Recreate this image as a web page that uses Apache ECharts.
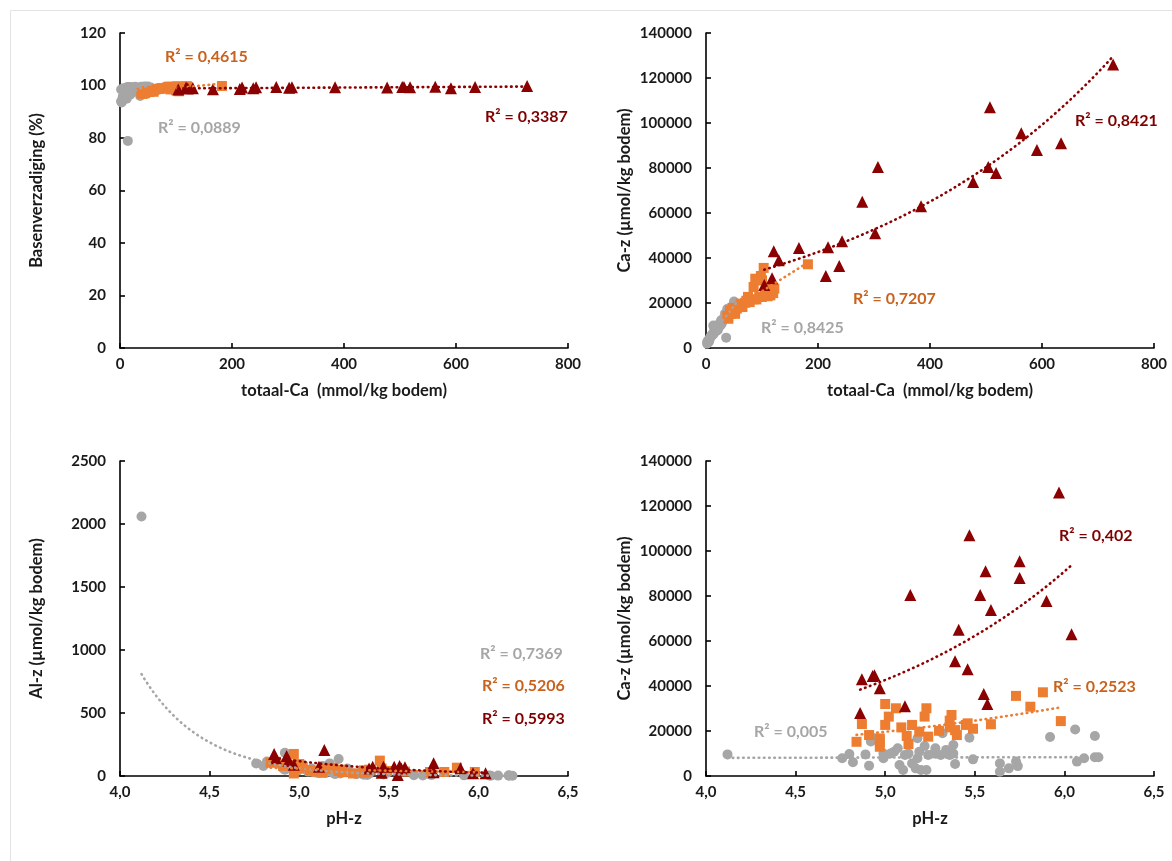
<!DOCTYPE html>
<html>
<head>
<meta charset="utf-8">
<script src="https://cdn.jsdelivr.net/npm/echarts@6/dist/echarts.min.js"></script>
<style>
  html, body { margin: 0; padding: 0; background: #fff; }
  #chart { width: 1172px; height: 861px; }
</style>
</head>
<body>
<div id="chart"></div>
<script>
// Soil samples, one column per measured quantity, grouped per series.
// totCa: totaal-Ca (mmol/kg), bs: Basenverzadiging (%), caz: Ca-z (µmol/kg),
// ph: pH-z, alz: Al-z (µmol/kg)

// grey circles
const greyTotCa = [14, 18, 22, 12, 20, 36, 34, 55, 15, 24, 19, 28, 30, 8, 3, 17, 13, 10, 4, 21, 40, 25, 2, 32, 5, 23, 26, 27, 16, 48, 29, 20, 35, 21, 9, 45, 17, 11, 2, 6, 14, 7, 38, 50, 12, 16, 42, 18, 19];
const greyBS    = [78.9, 96.5, 97.5, 95.0, 98.0, 96.0, 98.5, 99.2, 97.0, 98.8, 96.8, 99.0, 98.6, 95.5, 93.5, 97.8, 98.2, 96.2, 94.5, 98.4, 99.0, 98.9, 94.0, 99.1, 95.8, 99.3, 98.7, 99.5, 97.5, 99.4, 99.0, 98.0, 99.2, 98.5, 97.2, 99.6, 97.9, 96.9, 98.5, 99.0, 99.4, 98.8, 99.5, 99.6, 99.2, 99.3, 99.5, 99.0, 99.4];
const greyCaz   = [9600, 7900, 9800, 6100, 9600, 4600, 15300, 17500, 7900, 10000, 10000, 10800, 12300, 4900, 2700, 9300, 10000, 5600, 3400, 7900, 16800, 10800, 2700, 13300, 2700, 9300, 10000, 12300, 9300, 19000, 11600, 9300, 13800, 10000, 5300, 17000, 7400, 5600, 1900, 3400, 6400, 4400, 17300, 20700, 6400, 7900, 17800, 8300, 8300];
const greyPH    = [4.12, 4.76, 4.80, 4.82, 4.89, 4.91, 4.92, 4.92, 4.99, 4.99, 5.03, 5.05, 5.07, 5.08, 5.10, 5.11, 5.13, 5.15, 5.17, 5.18, 5.18, 5.19, 5.20, 5.22, 5.23, 5.24, 5.27, 5.28, 5.31, 5.32, 5.34, 5.36, 5.38, 5.38, 5.39, 5.47, 5.49, 5.64, 5.64, 5.69, 5.73, 5.74, 5.92, 6.06, 6.07, 6.11, 6.17, 6.17, 6.19];
const greyAlz   = [2060, 100, 80, 115, 95, 60, 185, 50, 70, 40, 55, 35, 60, 30, 25, 45, 80, 30, 100, 30, 50, 25, 15, 135, 20, 35, 60, 30, 20, 15, 30, 10, 25, 8, 18, 12, 25, 6, 15, 4, 12, 8, 5, 4, 2, 3, 5, 1.5, 2];

// orange squares
const orangeTotCa = [98, 95, 100, 122, 112, 85, 100, 105, 95, 90, 118, 85, 75, 115, 72, 110, 70, 62, 55, 65, 78, 48, 38, 60, 43, 40, 52, 45, 103, 88, 182, 120];
const orangeBS    = [99.3, 99.0, 99.5, 99.2, 98.8, 99.4, 98.2, 97.8, 99.0, 98.5, 99.6, 99.1, 99.0, 99.3, 98.9, 99.5, 98.7, 98.4, 98.0, 98.6, 98.9, 97.9, 97.2, 97.6, 97.0, 96.8, 97.5, 97.1, 99.7, 99.6, 99.8, 99.7];
const orangeCaz   = [32000, 30100, 30100, 26400, 26400, 27100, 22700, 23100, 22700, 21600, 24600, 21600, 22700, 23400, 21000, 23000, 20100, 19700, 17500, 18200, 20400, 17800, 14200, 18200, 16700, 13000, 15200, 15200, 35600, 30800, 37200, 24400];
const orangePH    = [5.00, 5.06, 5.23, 5.22, 5.02, 5.37, 5.00, 4.87, 5.15, 5.09, 5.36, 5.36, 5.45, 5.46, 5.49, 5.59, 5.30, 5.19, 5.24, 5.40, 5.39, 5.12, 5.13, 4.91, 4.97, 4.97, 4.97, 4.84, 5.73, 5.81, 5.88, 5.98];
const orangeAlz   = [60, 45, 50, 40, 70, 30, 95, 113, 55, 35, 45, 25, 122, 60, 40, 35, 20, 65, 30, 45, 50, 40, 25, 80, 175, 20, 90, 105, 32, 32, 66, 32];

// dark red triangles
const redTotCa = [727, 507, 563, 634, 591, 307, 504, 518, 477, 279, 384, 302, 243, 121, 166, 218, 130, 238, 214, 118, 104];
const redBS    = [99.8, 99.4, 99.5, 99.4, 99.0, 99.3, 99.4, 99.3, 99.2, 99.4, 99.3, 99.1, 99.3, 98.9, 98.6, 99.2, 99.0, 99.0, 98.7, 99.2, 98.5];
const redCaz   = [126000, 107000, 95500, 91000, 88000, 80500, 80400, 77800, 73800, 65000, 63000, 51000, 47500, 43000, 44500, 44800, 39000, 36500, 32000, 31000, 28000];
const redPH    = [5.97, 5.47, 5.75, 5.56, 5.75, 5.14, 5.53, 5.90, 5.59, 5.41, 6.04, 5.39, 5.46, 4.87, 4.93, 4.94, 4.97, 5.55, 5.57, 5.11, 4.86];
const redAlz   = [21, 74, 101, 79, 30, 206, 74, 61, 69, 74, 21, 60, 26, 140, 159, 120, 90, 8, 60, 74, 175];

// coefficient of determination printed next to each trend line
const r2Panel1 = ['R² = 0,4615', 'R² = 0,0889', 'R² = 0,3387'];
const r2Panel2 = ['R² = 0,8421', 'R² = 0,7207', 'R² = 0,8425'];
const r2Panel3 = ['R² = 0,7369', 'R² = 0,5206', 'R² = 0,5993'];
const r2Panel4 = ['R² = 0,402', 'R² = 0,2523', 'R² = 0,005'];

// axis titles
const titleTotCa = 'totaal-Ca  (mmol/kg bodem)';
const titleBS = 'Basenverzadiging (%)';
const titleCaz = 'Ca-z (µmol/kg bodem)';
const titleAlz = 'Al-z (µmol/kg bodem)';
const titlePH = 'pH-z';

const GREY = '#A6A6A6', ORANGE = '#ED7D31', RED = '#8B0000';
const GREY_TXT = '#A6A6A6', ORANGE_TXT = '#C9621C', RED_TXT = '#7F0000';
const FONT = 'Lato';

// least-squares trend sampled over the data range:
// 'exp' fits ln y = a + b x, 'linear' fits y = a + b x
function fitTrend(xs, ys, kind, steps) {
  const n = xs.length;
  const tf = kind === 'exp' ? (v => Math.log(v)) : (v => v);
  const inv = kind === 'exp' ? (v => Math.exp(v)) : (v => v);
  let sx = 0, sy = 0, sxx = 0, sxy = 0;
  for (let i = 0; i < n; i++) {
    const ty = tf(ys[i]);
    sx += xs[i]; sy += ty; sxx += xs[i] * xs[i]; sxy += xs[i] * ty;
  }
  const b = (n * sxy - sx * sy) / (n * sxx - sx * sx);
  const a = (sy - b * sx) / n;
  const lo = Math.min(...xs), hi = Math.max(...xs);
  const pts = [];
  for (let k = 0; k <= steps; k++) {
    const x = lo + (hi - lo) * k / steps;
    pts.push([x, inv(a + b * x)]);
  }
  return pts;
}

function pairs(xs, ys) { return xs.map((x, i) => [x, ys[i]]); }

function scatter(idx, xs, ys, symbol, color, size) {
  return {
    type: 'scatter', xAxisIndex: idx, yAxisIndex: idx,
    symbol: symbol, symbolSize: size,
    itemStyle: { color: color, opacity: 1 },
    data: pairs(xs, ys), z: 2, silent: true, animation: false
  };
}

function trend(idx, xs, ys, color, kind) {
  return {
    type: 'line', xAxisIndex: idx, yAxisIndex: idx,
    data: fitTrend(xs, ys, kind || 'exp', 120), showSymbol: false, symbol: 'none',
    lineStyle: { color: color, width: 2.6, type: [0.6, 4.6], cap: 'round' },
    z: 4, silent: true, animation: false
  };
}

const commaFmt = v => v.toFixed(1).replace('.', ',');
const plainFmt = v => String(v);

function xAxis(idx, min, max, interval, name, fmt) {
  return {
    gridIndex: idx, type: 'value', min, max, interval,
    name, nameLocation: 'middle', nameGap: 34,
    nameTextStyle: { fontFamily: FONT, fontWeight: 'bold', fontSize: 16.5, color: '#1a1a1a' },
    axisLine: { show: true, onZero: false, lineStyle: { color: '#000', width: 1.6 } },
    axisTick: { show: true, inside: true, length: 5, lineStyle: { color: '#000', width: 1.6 } },
    splitLine: { show: false },
    axisLabel: { fontFamily: FONT, fontWeight: 'bold', fontSize: 15, color: '#1a1a1a', margin: 9,
                 formatter: fmt || plainFmt }
  };
}

function yAxis(idx, min, max, interval, name, gap) {
  return {
    gridIndex: idx, type: 'value', min, max, interval,
    name, nameLocation: 'middle', nameGap: gap,
    nameTextStyle: { fontFamily: FONT, fontWeight: 'bold', fontSize: 16.5, color: '#1a1a1a' },
    axisLine: { show: true, onZero: false, lineStyle: { color: '#000', width: 1.6 } },
    axisTick: { show: true, inside: true, length: 5, lineStyle: { color: '#000', width: 1.6 } },
    splitLine: { show: false },
    axisLabel: { fontFamily: FONT, fontWeight: 'bold', fontSize: 15, color: '#1a1a1a', margin: 14,
                 formatter: plainFmt }
  };
}

function r2Text(x, y, text, color) {
  return {
    type: 'text', x, y, silent: true,
    style: { text, fill: color, font: 'bold 16px ' + FONT, textVerticalAlign: 'middle', textAlign: 'left' }
  };
}

const chart = echarts.init(document.getElementById('chart'), null, { renderer: 'canvas' });

chart.setOption({
  backgroundColor: '#fff',
  animation: false,
  grid: [
    { left: 120, top: 33, width: 448, height: 315 },
    { left: 706, top: 33, width: 448, height: 315 },
    { left: 120, top: 461, width: 448, height: 315 },
    { left: 706, top: 461, width: 448, height: 315 }
  ],
  xAxis: [
    xAxis(0, 0, 800, 200, titleTotCa),
    xAxis(1, 0, 800, 200, titleTotCa),
    xAxis(2, 4, 6.5, 0.5, titlePH, commaFmt),
    xAxis(3, 4, 6.5, 0.5, titlePH, commaFmt)
  ],
  yAxis: [
    yAxis(0, 0, 120, 20, titleBS, 75),
    yAxis(1, 0, 140000, 20000, titleCaz, 73),
    yAxis(2, 0, 2500, 500, titleAlz, 75),
    yAxis(3, 0, 140000, 20000, titleCaz, 73)
  ],
  series: [
    // totaal-Ca vs Basenverzadiging
    scatter(0, greyTotCa, greyBS, 'circle', GREY, 10),
    scatter(0, orangeTotCa, orangeBS, 'rect', ORANGE, 10),
    scatter(0, redTotCa, redBS, 'triangle', RED, 12),
    trend(0, greyTotCa, greyBS, GREY, 'linear'),
    trend(0, orangeTotCa, orangeBS, ORANGE, 'linear'),
    trend(0, redTotCa, redBS, RED, 'linear'),
    // totaal-Ca vs Ca-z
    scatter(1, greyTotCa, greyCaz, 'circle', GREY, 10),
    scatter(1, orangeTotCa, orangeCaz, 'rect', ORANGE, 10),
    scatter(1, redTotCa, redCaz, 'triangle', RED, 12),
    trend(1, greyTotCa, greyCaz, GREY, 'linear'),
    trend(1, orangeTotCa, orangeCaz, ORANGE, 'linear'),
    trend(1, redTotCa, redCaz, RED, 'exp'),
    // pH vs Al-z
    scatter(2, greyPH, greyAlz, 'circle', GREY, 10),
    scatter(2, orangePH, orangeAlz, 'rect', ORANGE, 10),
    scatter(2, redPH, redAlz, 'triangle', RED, 12),
    trend(2, greyPH, greyAlz, GREY, 'exp'),
    trend(2, orangePH, orangeAlz, ORANGE, 'exp'),
    trend(2, redPH, redAlz, RED, 'exp'),
    // pH vs Ca-z
    scatter(3, greyPH, greyCaz, 'circle', GREY, 10),
    scatter(3, orangePH, orangeCaz, 'rect', ORANGE, 10),
    scatter(3, redPH, redCaz, 'triangle', RED, 12),
    trend(3, greyPH, greyCaz, GREY, 'exp'),
    trend(3, orangePH, orangeCaz, ORANGE, 'exp'),
    trend(3, redPH, redCaz, RED, 'exp')
  ],
  graphic: [
    { type: 'rect', shape: { x: 10.5, y: 10.5, width: 1300, height: 1000 }, silent: true,
      style: { fill: 'none', stroke: '#E3E3E3', lineWidth: 1 } },
    r2Text(165, 57, r2Panel1[0], ORANGE_TXT),
    r2Text(158, 128, r2Panel1[1], GREY_TXT),
    r2Text(485, 117, r2Panel1[2], RED_TXT),
    r2Text(1075, 121, r2Panel2[0], RED_TXT),
    r2Text(853, 299, r2Panel2[1], ORANGE_TXT),
    r2Text(761, 328, r2Panel2[2], GREY_TXT),
    r2Text(480, 654, r2Panel3[0], GREY_TXT),
    r2Text(482, 686, r2Panel3[1], ORANGE_TXT),
    r2Text(482, 719, r2Panel3[2], RED_TXT),
    r2Text(1059, 536, r2Panel4[0], RED_TXT),
    r2Text(1053, 687, r2Panel4[1], ORANGE_TXT),
    r2Text(754, 732, r2Panel4[2], GREY_TXT)
  ]
});
</script>
</body>
</html>
